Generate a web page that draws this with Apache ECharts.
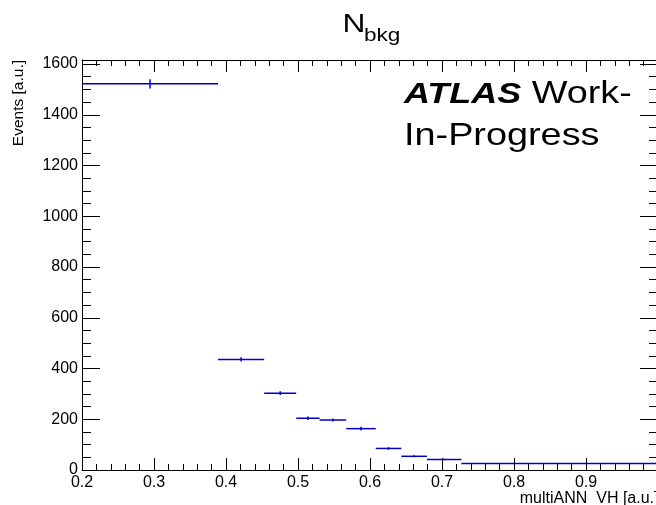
<!DOCTYPE html>
<html>
<head>
<meta charset="utf-8">
<script src="https://cdn.jsdelivr.net/npm/echarts@6/dist/echarts.min.js"></script>
<style>
  html, body { margin: 0; padding: 0; background: #fff; }
  #chart { width: 656px; height: 505px; }
</style>
</head>
<body>
<div id="chart"></div>
<script>
// Variable-width bins of the background yield histogram
const binEdges = [0.2, 0.389, 0.453, 0.4975, 0.530, 0.567, 0.608, 0.6435, 0.679, 0.727, 1.0];
const binCounts = [1522, 436, 303, 204, 197, 163, 85, 54, 41, 26];
const binErrors = [18, 8, 7, 7, 6, 7, 5, 4, 3, 2];

// Axis ranges and labels
const xRange = [0.2, 1.0];
const yRange = [0, 1616];
const xTitle = 'multiANN_VH [a.u.]';
const yTitle = 'Events [a.u.]';
const histTitle = { main: 'N', sub: 'bkg' };
const tagBold = 'ATLAS';
const tagRest = ' Work-';
const tagLine2 = 'In-Progress';

const FONT = '"Liberation Sans", Arial, Helvetica, sans-serif';
const LINE = '#0000c8';
const STRETCH = 1.22;

const histData = binCounts.map((v, i) => [binEdges[i], binEdges[i + 1], v, binErrors[i]]);

const chart = echarts.init(document.getElementById('chart'), null, { renderer: 'canvas' });

const G = { left: 82, top: 60, width: 576, height: 410, containLabel: false, outerBoundsMode: 'none' };

function xAxisDef(pos, showLabel) {
  return {
    type: 'value', position: pos, min: xRange[0], max: xRange[1], interval: 0.1,
    axisLine: { show: true, onZero: false, lineStyle: { color: '#000', width: 1 } },
    axisTick: { show: true, inside: true, length: 12, lineStyle: { color: '#000', width: 1 } },
    minorTick: { show: true, splitNumber: 5, length: 6, lineStyle: { color: '#000', width: 1 } },
    splitLine: { show: false },
    axisLabel: {
      show: showLabel, color: '#000', fontFamily: FONT, fontSize: 16, margin: 5,
      showMaxLabel: false,
      formatter: v => (Math.round(v * 10) / 10).toFixed(1)
    }
  };
}

function yAxisDef(pos, interval, tickLen, showLabel) {
  return {
    type: 'value', position: pos, min: yRange[0], max: yRange[1], interval: interval,
    axisLine: { show: true, onZero: false, lineStyle: { color: '#000', width: 1 } },
    axisTick: { show: true, inside: true, length: tickLen, lineStyle: { color: '#000', width: 1 } },
    splitLine: { show: false },
    axisLabel: {
      show: showLabel, color: '#000', fontFamily: FONT, fontSize: 16, margin: 4,
      showMaxLabel: false,
      formatter: v => (v % 200 === 0 ? String(v) : '')
    }
  };
}

chart.setOption({
  animation: false,
  backgroundColor: '#fff',
  grid: G,
  xAxis: [xAxisDef('bottom', true), xAxisDef('top', false)],
  yAxis: [
    yAxisDef('left', 200, 18, true),
    yAxisDef('left', 50, 9, false),
    yAxisDef('right', 200, 18, false),
    yAxisDef('right', 50, 9, false)
  ],
  graphic: [
    { type: 'text', x: 342.5, y: 24.5, scaleX: STRETCH,
      style: { text: histTitle.main, font: '26px ' + FONT, fill: '#000', verticalAlign: 'middle', align: 'left' } },
    { type: 'text', x: 364, y: 35.5, scaleX: STRETCH,
      style: { text: histTitle.sub, font: '18.5px ' + FONT, fill: '#000', verticalAlign: 'middle', align: 'left' } },
    { type: 'text', x: 404, y: 94.5, scaleX: 1.24,
      style: {
        text: '{b|' + tagBold + '}{r|' + tagRest + '}',
        rich: {
          b: { font: 'italic bold 29px ' + FONT, fill: '#000' },
          r: { font: '30.5px ' + FONT, fill: '#000' }
        },
        verticalAlign: 'middle', align: 'left'
      } },
    { type: 'text', x: 404, y: 136.5, scaleX: 1.24,
      style: { text: tagLine2, font: '30.5px ' + FONT, fill: '#000', verticalAlign: 'middle', align: 'left' } },
    { type: 'text', x: 658.5, y: 499,
      style: { text: xTitle, font: '16px ' + FONT, fill: '#000', verticalAlign: 'middle', align: 'right' } },
    { type: 'text', x: 19, y: 60, rotation: Math.PI / 2,
      style: { text: yTitle, font: '15.5px ' + FONT, fill: '#000', verticalAlign: 'middle', align: 'right' } }
  ],
  series: [{
    type: 'custom',
    xAxisIndex: 0,
    yAxisIndex: 0,
    clip: true,
    data: histData,
    encode: { x: [0, 1], y: 2 },
    renderItem: function (params, api) {
      const lo = api.value(0), hi = api.value(1), v = api.value(2), e = api.value(3);
      const mid = (lo + hi) / 2;
      const a = api.coord([lo, v]);
      const b = api.coord([hi, v]);
      const top = api.coord([mid, v + e]);
      const bot = api.coord([mid, v - e]);
      const st = { stroke: LINE, lineWidth: 1.5 };
      return {
        type: 'group',
        children: [
          { type: 'line', shape: { x1: a[0], y1: a[1], x2: b[0], y2: b[1] }, style: st },
          { type: 'line', shape: { x1: top[0], y1: top[1], x2: bot[0], y2: bot[1] }, style: st }
        ]
      };
    }
  }]
});
</script>
</body>
</html>
